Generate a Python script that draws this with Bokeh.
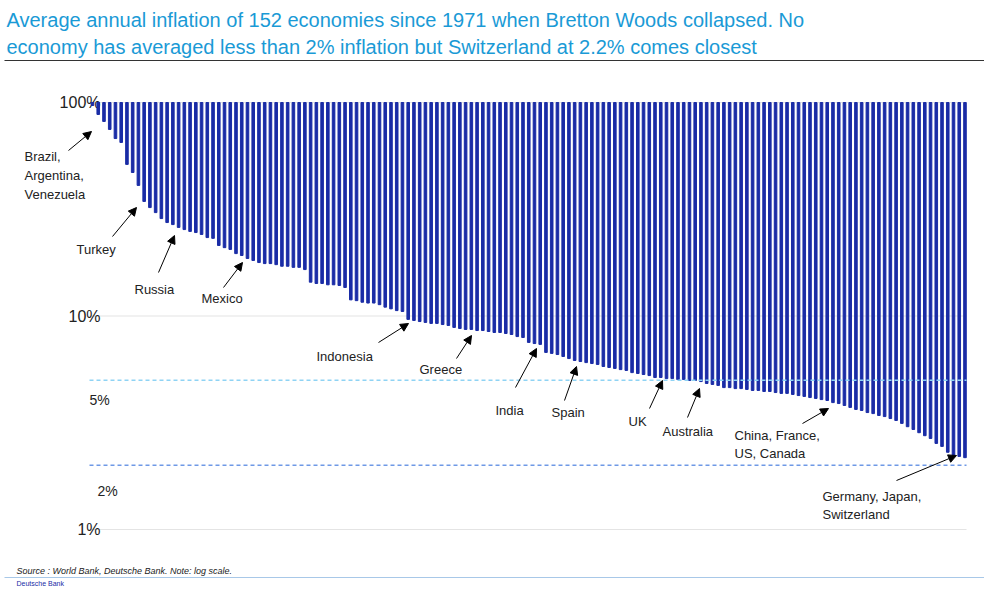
from bokeh.plotting import figure
from bokeh.models import Range1d, Arrow, NormalHead
from bokeh.core.properties import value
from bokeh.embed import file_html
from bokeh.resources import INLINE

values = [96.8, 87.9, 81.5, 74.8, 67.8, 65.0, 51.3, 47.0, 40.9, 34.4,
          32.2, 30.5, 28.6, 27.4, 26.8, 26.0, 25.4, 24.9, 24.6, 24.1,
          23.3, 23.1, 21.4, 20.9, 20.5, 19.6, 19.2, 18.6, 18.2, 17.8,
          17.6, 17.6, 17.4, 17.1, 17.1, 16.9, 16.9, 16.5, 14.4, 14.2,
          14.2, 14.0, 14.0, 13.9, 13.6, 11.9, 11.8, 11.6, 11.5, 11.5,
          11.3, 11.0, 10.8, 10.6, 10.5, 9.64, 9.53, 9.42, 9.33, 9.23,
          9.23, 9.12, 9.03, 8.84, 8.74, 8.65, 8.65, 8.55, 8.55, 8.46,
          8.37, 8.37, 8.28, 8.19, 8.01, 7.93,
          7.52, 7.43, 7.36, 6.75, 6.68, 6.60, 6.46, 6.32, 6.19, 6.12,
          6.05, 5.99, 5.93, 5.80, 5.74, 5.68, 5.61, 5.56, 5.43, 5.38,
          5.32, 5.26, 5.15, 5.15, 5.09, 5.09, 5.04, 5.04, 4.99, 4.99,
          4.93, 4.83, 4.78, 4.73, 4.62, 4.62, 4.57, 4.57, 4.53, 4.48,
          4.48, 4.43, 4.43, 4.38, 4.34, 4.34, 4.29, 4.24, 4.20, 4.15,
          4.11, 4.06, 4.02, 3.93, 3.89, 3.81, 3.73, 3.65, 3.61, 3.53,
          3.49, 3.42, 3.38, 3.31, 3.24, 3.14, 3.03, 2.94, 2.84, 2.75,
          2.67, 2.53, 2.45, 2.30, 2.22, 2.20, 2.17]
ticks = [100, 10, 1]
tick_labels = ["100%", "10%", "1%"]
ref_levels = [5, 2]
ref_labels = ["5%", "2%"]
annotations = [
    ("Brazil,\nArgentina,\nVenezuela", 0), ("Turkey", 9), ("Russia", 14),
    ("Mexico", 26), ("Indonesia", 55), ("Greece", 66), ("India", 77),
    ("Spain", 84), ("UK", 99), ("Australia", 106),
    ("China, France,\nUS, Canada", 128), ("Germany, Japan,\nSwitzerland", 151)]

X0, DX, Y100, DEC = 96.0, 5.74, 102.0, 213.5
def px(x): return (x - X0) / DX
def py(y): return 10 ** (2 - (y - Y100) / DEC)

FONT = value("Liberation Sans")
p = figure(width=984, height=586, y_axis_type="log", output_backend="svg",
           toolbar_location=None, min_border=0,
           x_range=Range1d(px(4), px(988)), y_range=Range1d(py(586), py(0)))
p.axis.visible = False
p.grid.visible = False
p.outline_line_color = None

p.text(x=[px(10), px(10)], y=[py(19), py(46)],
       text=["Average annual inflation of 152 economies since 1971 when Bretton Woods collapsed. No",
             "economy has averaged less than 2% inflation but Switzerland at 2.2% comes closest"],
       text_font=FONT, text_font_size="20px", text_color="#1a9ad6", text_baseline="middle")
p.segment(x0=[px(8)], x1=[px(992)], y0=[py(60)], y1=[py(60)], line_color="#333333", line_width=1.2)

p.segment(x0=px(93), x1=px(970), y0=ticks, y1=ticks, line_color="#e4e4e4", line_width=1.2)
p.text(x=[px(104)] * 3, y=ticks, text=tick_labels, text_font=FONT, text_font_size="16px",
       text_color="#222222", text_align="right", text_baseline="middle")

xs = list(range(len(values)))
p.vbar(x=xs, width=0.45, top=100, bottom=values, color="#1a2ca6")

p.segment(x0=px(93), x1=px(970), y0=[5], y1=[5], line_color="#8fd3f4", line_width=1.5, line_dash="4 3")
p.segment(x0=px(93), x1=px(970), y0=[2], y1=[2], line_color="#6f99e6", line_width=1.5, line_dash="4 3")
p.text(x=[px(93), px(101)], y=[py(399), py(490)], text=ref_labels, text_font=FONT,
       text_font_size="14px", text_color="#222222", text_baseline="middle")

geo = [((28, 175), (72, 150), (95, 131)), ((80, 249), (116, 236), (140, 207)),
       ((138, 289), (162, 272), (178, 235)), ((205, 298), (227, 287), (246, 262)),
       ((320, 356), (382, 342), (412, 323)), ((423, 369), (460, 358), (475, 335)),
       ((499, 410), (519, 387), (540, 348)), ((555, 412), (568, 400), (580, 366)),
       ((632, 421), (653, 408), (666, 380)), ((666, 431), (691, 417), (703, 388)),
       ((738, 444), (806, 423), (832, 408)), ((826, 505), (900, 480), (960, 455))]
for (lab, idx), ((lx, ly), (tx, ty), (hx, hy)) in zip(annotations, geo):
    p.text(x=[px(lx)], y=[py(ly)], text=[lab], text_font=FONT, text_font_size="13px",
           text_color="#222222", text_baseline="middle", text_line_height=1.25)
    p.add_layout(Arrow(end=NormalHead(size=8, fill_color="black", line_color="black"),
                       x_start=px(tx), y_start=py(ty), x_end=px(hx), y_end=py(hy),
                       line_color="black", line_width=1))

p.text(x=[px(20)], y=[py(570)], text=["Source : World Bank, Deutsche Bank. Note: log scale."],
       text_font=FONT, text_font_size="9px", text_font_style="italic", text_color="#222222",
       text_baseline="middle")
p.segment(x0=[px(8)], x1=[px(992)], y0=[py(577)], y1=[py(577)], line_color="#a8c8e8", line_width=1)
p.text(x=[px(20)], y=[py(583)], text=["Deutsche Bank"], text_font=FONT, text_font_size="7px",
       text_color="#1a2ca6", text_baseline="middle")

open("out.html", "w").write(file_html(p, INLINE))
